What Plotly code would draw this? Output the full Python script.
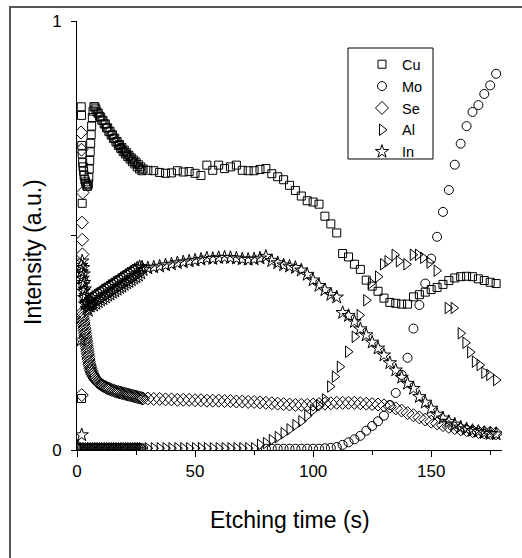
import plotly.graph_objects as go

# ---------------- data ----------------
T_LATE = [30, 32.5, 35, 37.5, 40, 42.5, 45, 47.5, 50, 52.5, 55, 57.5, 60, 62.5, 65, 67.5, 70, 72.5, 75, 77.5,
          80, 82.5, 85, 87.5, 90, 92.5, 95, 97.5, 100, 102.5, 105, 107.5, 110, 112.5, 115, 117.5, 120, 122.5,
          125, 127.5, 130, 132.5, 135, 137.5, 140, 142.5, 145, 147.5, 150, 152.5, 155, 157.5, 160, 162.5,
          165, 167.5, 170, 172.5, 175, 177.5]

# Cu
CU_T_EARLY = [1.8, 1.9, 2.2, 1.9, 2.0, 2.2, 2.4, 2.6, 2.8, 3.0, 3.3, 3.6, 3.9, 4.2, 4.5, 4.8, 5.0, 5.2, 5.4,
              5.6, 5.8, 6.0, 6.2, 6.5, 6.8, 7.2, 7.6,
              8.0, 8.5, 9.0, 9.5, 10, 10.5, 11, 11.5, 12, 12.5, 13, 13.5, 14, 14.5, 15, 15.5, 16, 16.5, 17,
              17.5, 18, 18.5, 19, 19.5, 20, 20.5, 21, 21.5, 22, 22.5, 23, 23.5, 24, 24.5, 25, 25.5, 26, 26.5,
              27, 27.5, 28]
CU_Y_EARLY = [0.80, 0.78, 0.575, 0.12, 0.71, 0.69, 0.67, 0.66, 0.65, 0.64, 0.63, 0.625, 0.62, 0.615, 0.615,
              0.62, 0.635, 0.655, 0.675, 0.695, 0.715, 0.735, 0.755, 0.775, 0.79, 0.80, 0.80,
              0.795, 0.788, 0.785, 0.778, 0.776, 0.769, 0.768, 0.760, 0.760, 0.751, 0.751, 0.742, 0.743,
              0.734, 0.735, 0.726, 0.727, 0.718, 0.719, 0.710, 0.712, 0.703, 0.705, 0.696, 0.699, 0.690,
              0.693, 0.684, 0.687, 0.678, 0.681, 0.672, 0.676, 0.667, 0.671, 0.660, 0.665, 0.655, 0.660,
              0.651, 0.655]
CU_Y_LATE = [0.652, 0.651, 0.647, 0.645, 0.646, 0.651, 0.648, 0.649, 0.645, 0.640, 0.664, 0.652, 0.664, 0.656,
             0.660, 0.664, 0.652, 0.651, 0.651, 0.654, 0.656, 0.644, 0.637, 0.630, 0.617, 0.605, 0.592, 0.581,
             0.578, 0.573, 0.545, 0.527, 0.506, 0.458, 0.450, 0.433, 0.421, 0.396, 0.382, 0.370, 0.354, 0.344,
             0.342, 0.340, 0.340, 0.357, 0.362, 0.368, 0.374, 0.379, 0.386, 0.395, 0.401, 0.404, 0.405, 0.404,
             0.399, 0.395, 0.391, 0.388]

# Mo
MO_T_EARLY = [0, 1, 2, 3, 4, 5, 6, 7, 8, 9, 10, 11, 12, 13, 14, 15, 16, 17, 18, 19, 20, 21, 22, 23, 24, 25,
              26, 27, 28]
MO_Y_EARLY = [0.004, 0.004, 0.004, 0.004, 0.004, 0.004, 0.004, 0.004, 0.004, 0.004, 0.004, 0.004, 0.004,
              0.004, 0.004, 0.004, 0.004, 0.004, 0.004, 0.004, 0.004, 0.004, 0.004, 0.004, 0.004, 0.004,
              0.004, 0.004, 0.004]
MO_Y_LATE = [0.003, 0.003, 0.003, 0.003, 0.003, 0.003, 0.003, 0.003,
             0.003, 0.003, 0.004, 0.005, 0.007, 0.012, 0.018, 0.025, 0.033, 0.045, 0.056, 0.067, 0.080,
             0.105, 0.133, 0.175, 0.215, 0.283, 0.338, 0.388, 0.446, 0.497, 0.555, 0.606, 0.665, 0.714,
             0.755, 0.788, 0.804, 0.830, 0.850, 0.877]   # from t = 80 s

# Se
SE_T_EARLY = [1.7, 1.9, 2.4, 2.1, 2.2, 2.3, 2.0,
              2.2, 2.35, 2.5, 2.65, 2.8, 2.95, 3.1, 3.25, 3.4, 3.55, 3.7, 3.85, 4.0, 4.15, 4.3, 4.45, 4.6,
              4.75, 4.9, 5.1, 5.3, 5.5, 5.75, 6.0, 6.3, 6.6, 7.0, 7.4, 7.8, 8.3, 8.8, 9.3, 9.8, 10.4, 11,
              11.6, 12.2, 12.8, 13.4, 14, 14.7, 15.4, 16.1, 16.8, 17.5, 18.2, 18.9, 19.6, 20.3, 21, 21.7,
              22.4, 23.1, 23.8, 24.5, 25.2, 25.9, 26.6, 27.3, 28]
SE_Y_EARLY = [0.74, 0.70, 0.60, 0.53, 0.49, 0.456, 0.128,
              0.320, 0.314, 0.308, 0.302, 0.296, 0.290, 0.284, 0.278, 0.272, 0.266, 0.260, 0.254, 0.248,
              0.242, 0.236, 0.230, 0.224, 0.218, 0.212, 0.206, 0.200, 0.195, 0.190, 0.185, 0.180, 0.176,
              0.172, 0.168, 0.165, 0.162, 0.159, 0.156, 0.154, 0.152, 0.150, 0.148, 0.146, 0.144, 0.143,
              0.142, 0.140, 0.139, 0.137, 0.136, 0.135, 0.134, 0.133, 0.132, 0.131, 0.130, 0.129, 0.128,
              0.127, 0.126, 0.125, 0.124, 0.123, 0.122, 0.121, 0.120]
SE_Y_LATE = [0.120, 0.119, 0.119, 0.118, 0.118, 0.117, 0.117, 0.117, 0.116, 0.116, 0.115, 0.115, 0.115,
             0.114, 0.114, 0.113, 0.113, 0.112, 0.112, 0.111, 0.110, 0.109, 0.108, 0.107, 0.106, 0.105,
             0.105, 0.105, 0.106, 0.107, 0.108, 0.109, 0.110, 0.110, 0.110, 0.110, 0.109, 0.108, 0.107,
             0.106, 0.104, 0.101, 0.097, 0.092, 0.086, 0.081, 0.076, 0.071, 0.066, 0.062, 0.058, 0.054,
             0.051, 0.048, 0.046, 0.044, 0.042, 0.041, 0.040, 0.039]

# Al
AL_T_EARLY = [0.5, 1.5, 2.5, 3.5, 4.5, 5.5, 6.5, 7.5, 8.5, 9.5, 10.5, 11.5, 12.5, 13.5, 14.5, 15.5, 16.5,
              17.5, 18.5, 19.5, 20.5, 21.5, 22.5, 23.5, 24.5, 25.5, 26.5, 27.5]
AL_Y_EARLY = [0.004, 0.004, 0.004, 0.004, 0.004, 0.004, 0.004, 0.004, 0.004, 0.004, 0.004, 0.004, 0.004,
              0.004, 0.004, 0.004, 0.004, 0.004, 0.004, 0.004, 0.004, 0.004, 0.004, 0.004, 0.004, 0.004,
              0.004, 0.004]
AL_T_LATE = [30, 32.5, 35, 37.5, 40, 42.5, 45, 47.5, 50, 52.5, 55, 57.5, 60, 62.5, 65, 67.5, 70, 72.5, 75,
             77.5, 80, 82.5, 85, 87.5, 90, 92.5, 95, 97.5, 100, 102.5, 105, 107.2, 109.2, 111.3, 114.8,
             117.6, 119.7, 122.5, 124.5, 127.5, 129.6, 131.5, 134.5, 136.3, 139.5, 142.2, 144.4, 146.6,
             149.3, 152.3, 157, 159.5, 162.5, 164.5, 166.5, 168.5, 170.5, 172.5, 174.6, 177.5]
AL_Y_LATE = [0.004, 0.004, 0.004, 0.004, 0.004, 0.004, 0.004, 0.004, 0.004, 0.004, 0.004, 0.004, 0.004,
             0.004, 0.004, 0.004, 0.004, 0.004, 0.004,
             0.012, 0.016, 0.023, 0.030, 0.039, 0.048, 0.058, 0.067, 0.080, 0.093, 0.104, 0.118, 0.148,
             0.171, 0.194, 0.229, 0.264, 0.314, 0.349, 0.389, 0.404, 0.433, 0.440, 0.455, 0.440, 0.433,
             0.455, 0.455, 0.448, 0.437, 0.418, 0.331, 0.331, 0.272, 0.250, 0.228, 0.206, 0.198, 0.180,
             0.175, 0.163]

# In
IN_T_EARLY = [0.5, 2.0, 1.8,
              1.8, 2.2, 2.0, 2.6, 2.4, 2.8, 2.6, 3.0, 2.8, 3.3, 3.1, 3.6, 3.4, 3.9, 4.2, 4.5, 4.8, 5.1, 5.4,
              5.7, 6.0, 6.3,
              6.5, 7.0, 7.5, 8.0, 8.5, 9.0, 9.5, 10, 10.5, 11, 11.5, 12, 12.5, 13, 13.5, 14, 14.5, 15, 15.5,
              16, 16.5, 17, 17.5, 18, 18.5, 19, 19.5, 20, 20.5, 21, 21.5, 22, 22.5, 23, 23.5, 24, 24.5, 25,
              25.5, 26, 26.5, 27, 27.5, 28]
IN_Y_EARLY = [0.008, 0.035, 0.256,
              0.43, 0.44, 0.415, 0.425, 0.40, 0.41, 0.385, 0.39, 0.37, 0.375, 0.355, 0.36, 0.34, 0.345,
              0.33, 0.34, 0.325, 0.335, 0.345, 0.335, 0.35, 0.34,
              0.355, 0.337, 0.359, 0.341, 0.362, 0.345, 0.366, 0.349, 0.370, 0.352, 0.373, 0.356, 0.377,
              0.360, 0.381, 0.363, 0.384, 0.367, 0.388, 0.370, 0.391, 0.374, 0.395, 0.378, 0.399, 0.381,
              0.402, 0.385, 0.406, 0.389, 0.410, 0.392, 0.413, 0.396, 0.417, 0.400, 0.420, 0.403, 0.424,
              0.407, 0.427, 0.412, 0.426, 0.420]
IN_Y_LATE = [0.424, 0.426, 0.428, 0.431, 0.433, 0.436, 0.438, 0.440, 0.442, 0.444, 0.447, 0.446, 0.448,
             0.449, 0.448, 0.447, 0.445, 0.444, 0.445, 0.447, 0.451, 0.441, 0.436, 0.431, 0.428, 0.425,
             0.419, 0.409, 0.396, 0.383, 0.373, 0.362, 0.356, 0.320, 0.313, 0.299, 0.282, 0.268, 0.251,
             0.237, 0.221, 0.203, 0.186, 0.169, 0.155, 0.143, 0.124, 0.111, 0.097, 0.083, 0.074, 0.066,
             0.060, 0.053, 0.049, 0.045, 0.043, 0.040, 0.038, 0.037]

SERIES = [
    ("Cu", "square-open", 8, CU_T_EARLY + T_LATE, CU_Y_EARLY + CU_Y_LATE),
    ("Mo", "circle-open", 9, MO_T_EARLY + T_LATE[20:], MO_Y_EARLY + MO_Y_LATE),
    ("Se", "diamond-open", 10, SE_T_EARLY + T_LATE, SE_Y_EARLY + SE_Y_LATE),
    ("Al", "triangle-right-open", 10, AL_T_EARLY + AL_T_LATE, AL_Y_EARLY + AL_Y_LATE),
    ("In", "star-open", 10, IN_T_EARLY + T_LATE, IN_Y_EARLY + IN_Y_LATE),
]

FONT = "Arial, 'Liberation Sans', sans-serif"

# ---------------- figure ----------------
W, H = 522, 558
ML, MR, MT, MB = 77, 20, 21, 108
PW, PH = W - ML - MR, H - MT - MB


def px_x(p):
    return (p - ML) / PW


def px_y(p):
    return (H - MB - p) / PH


fig = go.Figure()
for name, sym, size, xs, ys in SERIES:
    fig.add_trace(go.Scatter(
        x=xs, y=ys, mode="markers", name=name,
        marker=dict(symbol=sym, size=size, color="black", line=dict(width=1, color="black")),
    ))

fig.update_layout(
    width=W, height=H,
    margin=dict(l=ML, r=MR, t=MT, b=MB, autoexpand=False),
    paper_bgcolor="white", plot_bgcolor="white",
    font=dict(family=FONT, color="black", size=17),
    showlegend=True,
    legend=dict(x=px_x(362), y=px_y(48.3), xanchor="left", yanchor="top",
                bgcolor="rgba(0,0,0,0)", borderwidth=0,
                font=dict(family=FONT, size=14.5, color="black"),
                tracegroupgap=0),
    xaxis=dict(range=[0, 180], showgrid=False, zeroline=False, showline=True, linecolor="black",
               linewidth=1, ticks="outside", tickvals=[0, 50, 100, 150], ticklen=6, tickwidth=1,
               tickcolor="black", tickfont=dict(size=17),
               minor=dict(tickvals=[25, 75, 125, 175], ticks="outside", ticklen=4, tickwidth=1,
                          tickcolor="black", showgrid=False)),
    yaxis=dict(range=[0, 1], showgrid=False, zeroline=False, showline=True, linecolor="black",
               linewidth=1, ticks="outside", tickvals=[0, 0.5, 1], ticktext=["0", "", "1"], ticklen=5,
               tickwidth=1, tickcolor="black", tickfont=dict(size=17), ticklabelstandoff=6),
    shapes=[
        dict(type="rect", xref="paper", yref="paper", x0=px_x(10), x1=px_x(535), y0=px_y(570),
             y1=px_y(7), line=dict(color="#555555", width=2), fillcolor="rgba(0,0,0,0)", layer="below"),
        dict(type="rect", xref="paper", yref="paper", x0=px_x(348), x1=px_x(433), y0=px_y(159),
             y1=px_y(48), line=dict(color="black", width=1), fillcolor="white", layer="above"),
    ],
    annotations=[
        dict(text="Etching time (s)", xref="paper", yref="paper", x=0.5, y=px_y(520), xanchor="center",
             yanchor="middle", showarrow=False, font=dict(family=FONT, size=23, color="black")),
        dict(text="Intensity (a.u.)", xref="paper", yref="paper", x=px_x(33), y=px_y(252),
             xanchor="center", yanchor="middle", textangle=-90, showarrow=False,
             font=dict(family=FONT, size=23, color="black")),
    ],
)

fig.write_html("out.html")
